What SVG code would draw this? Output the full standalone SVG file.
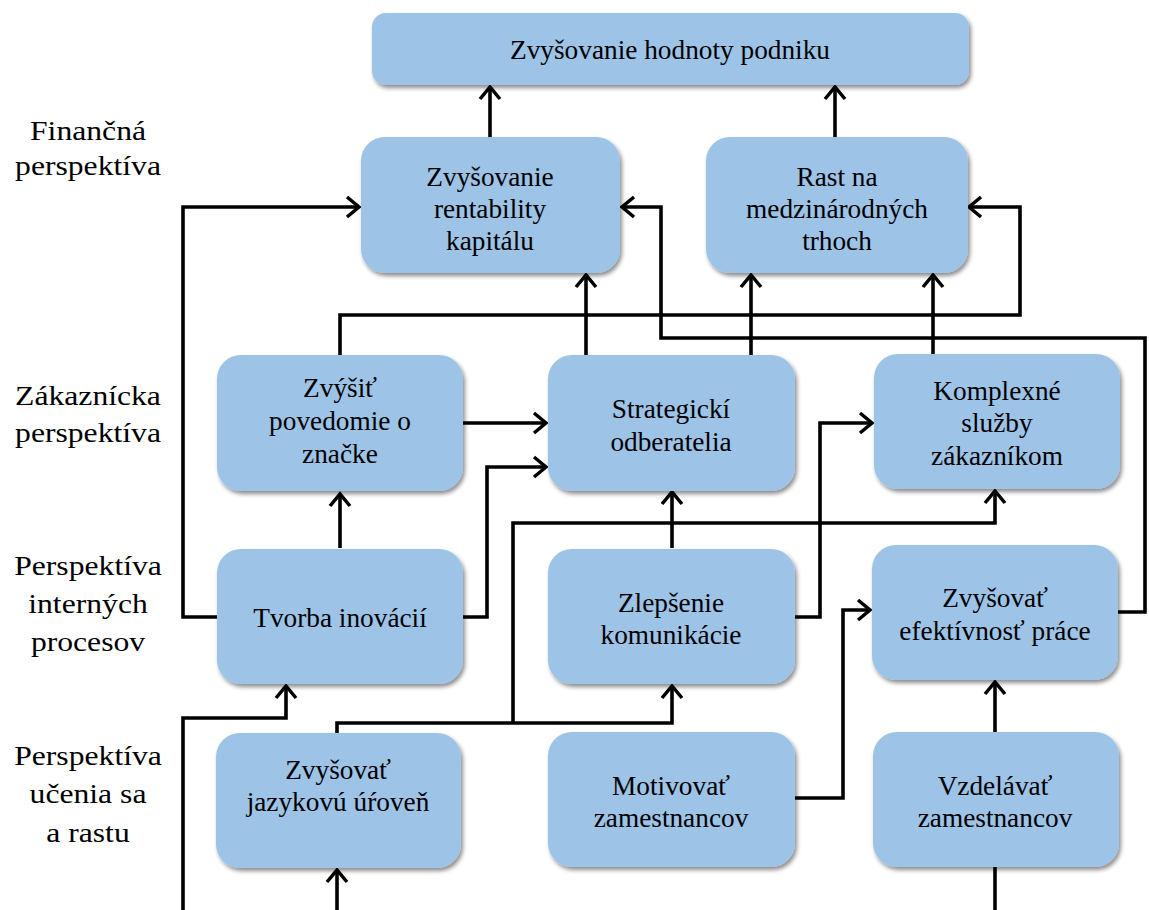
<svg xmlns="http://www.w3.org/2000/svg" width="1149" height="910" viewBox="0 0 1149 910">
  <defs>
    <filter id="shadow" x="-10%" y="-10%" width="125%" height="130%">
      <feDropShadow dx="2" dy="3" stdDeviation="2.2" flood-color="#000" flood-opacity="0.45"/>
    </filter>
    <marker id="arrow" viewBox="-16 -13 19 26" markerWidth="19" markerHeight="26" refX="0" refY="0" orient="auto" markerUnits="userSpaceOnUse">
      <path d="M-12,-10 L0,0 L-12,10" fill="none" stroke="#000" stroke-width="3.5" stroke-linejoin="miter"/>
    </marker>
    <style>
      .box { fill: #9dc3e6; filter: url(#shadow); }
      .t { font-family: 'Liberation Serif', 'Times New Roman', serif; font-size: 27.3px; fill: #000; text-anchor: middle; }
      .c { fill: none; stroke: #000; stroke-width: 3.6; stroke-linejoin: miter; stroke-linecap: butt; }
      .a { marker-end: url(#arrow); }
    </style>
  </defs>
  <rect width="1149" height="910" fill="#fff"/>

  <!-- perspective labels (slightly widened type) -->
  <g id="labels" font-family="'Liberation Serif', 'Times New Roman', serif">
    <g transform="translate(88,0) scale(1.16,1)">
      <text class="t" x="0" y="140">Finančná</text>
      <text class="t" x="0" y="175">perspektíva</text>
      <text class="t" x="0" y="405">Zákaznícka</text>
      <text class="t" x="0" y="442">perspektíva</text>
      <text class="t" x="0" y="575">Perspektíva</text>
      <text class="t" x="0" y="613">interných</text>
      <text class="t" x="0" y="651">procesov</text>
      <text class="t" x="0" y="765">Perspektíva</text>
      <text class="t" x="0" y="803">učenia sa</text>
      <text class="t" x="0" y="842">a rastu</text>
    </g>
  </g>

  <!-- connectors -->
  <g id="connectors">
    <path class="c a" d="M490,137 V87"/>
    <path class="c a" d="M835,137 V87"/>
    <path class="c a" d="M217,617 H183 V207 H359"/>
    <path class="c a" d="M340,355 V315 H1020 V207 H969"/>
    <path class="c a" d="M586,355 V275"/>
    <path class="c a" d="M751,355 V275"/>
    <path class="c a" d="M933,355 V275"/>
    <path class="c a" d="M1118,612 H1145 V338 H661 V207 H622"/>
    <path class="c a" d="M463,423 H546"/>
    <path class="c a" d="M463,617 H487 V467 H546"/>
    <path class="c a" d="M340,548 V494"/>
    <path class="c a" d="M337,733 V723 H672 V686"/>
    <path class="c a" d="M513,723 V523 H995 V491"/>
    <path class="c a" d="M672,548 V492"/>
    <path class="c a" d="M795,617 H820 V423 H872"/>
    <path class="c a" d="M795,798 H843 V610 H870"/>
    <path class="c a" d="M995,733 V682"/>
    <path class="c a" d="M183,910 V718 H286 V686"/>
    <path class="c a" d="M337,910 V870"/>
    <path class="c" d="M995,867 V910"/>
  </g>

  <g id="nodes">
    <!-- financial perspective -->
    <g id="n-hodnota">
      <rect class="box" x="372" y="13" width="597" height="72" rx="14"/>
      <text class="t" x="670" y="59">Zvyšovanie hodnoty podniku</text>
    </g>
    <g id="n-rentabilita">
      <rect class="box" x="361" y="137" width="259" height="136" rx="24"/>
      <text class="t" x="490" y="186">Zvyšovanie</text>
      <text class="t" x="490" y="218">rentability</text>
      <text class="t" x="490" y="250">kapitálu</text>
    </g>
    <g id="n-rast">
      <rect class="box" x="706" y="137" width="262" height="136" rx="24"/>
      <text class="t" x="837" y="186">Rast na</text>
      <text class="t" x="837" y="218">medzinárodných</text>
      <text class="t" x="837" y="250">trhoch</text>
    </g>

    <!-- customer perspective -->
    <g id="n-povedomie">
      <rect class="box" x="217" y="355" width="246" height="136" rx="24"/>
      <text class="t" x="340" y="397">Zvýšiť</text>
      <text class="t" x="340" y="430">povedomie o</text>
      <text class="t" x="340" y="463">značke</text>
    </g>
    <g id="n-odberatelia">
      <rect class="box" x="548" y="355" width="247" height="136" rx="24"/>
      <text class="t" x="671" y="418">Strategickí</text>
      <text class="t" x="671" y="451">odberatelia</text>
    </g>
    <g id="n-sluzby">
      <rect class="box" x="874" y="354" width="246" height="135" rx="24"/>
      <text class="t" x="997" y="400">Komplexné</text>
      <text class="t" x="997" y="432">služby</text>
      <text class="t" x="997" y="465">zákazníkom</text>
    </g>

    <!-- internal processes -->
    <g id="n-inovacie">
      <rect class="box" x="217" y="549" width="246" height="135" rx="24"/>
      <text class="t" x="340" y="627">Tvorba inovácií</text>
    </g>
    <g id="n-komunikacia">
      <rect class="box" x="548" y="549" width="247" height="135" rx="24"/>
      <text class="t" x="671" y="612">Zlepšenie</text>
      <text class="t" x="671" y="644">komunikácie</text>
    </g>
    <g id="n-efektivnost">
      <rect class="box" x="872" y="545" width="246" height="135" rx="24"/>
      <text class="t" x="995" y="607">Zvyšovať</text>
      <text class="t" x="995" y="640">efektívnosť práce</text>
    </g>

    <!-- learning and growth -->
    <g id="n-jazyk">
      <rect class="box" x="216" y="733" width="245" height="135" rx="24"/>
      <text class="t" x="338" y="779">Zvyšovať</text>
      <text class="t" x="338" y="811">jazykovú úŕoveň</text>
    </g>
    <g id="n-motivacia">
      <rect class="box" x="548" y="732" width="247" height="135" rx="24"/>
      <text class="t" x="671" y="795">Motivovať</text>
      <text class="t" x="671" y="827">zamestnancov</text>
    </g>
    <g id="n-vzdelavanie">
      <rect class="box" x="873" y="732" width="246" height="135" rx="24"/>
      <text class="t" x="995" y="795">Vzdelávať</text>
      <text class="t" x="995" y="827">zamestnancov</text>
    </g>
  </g>
</svg>
